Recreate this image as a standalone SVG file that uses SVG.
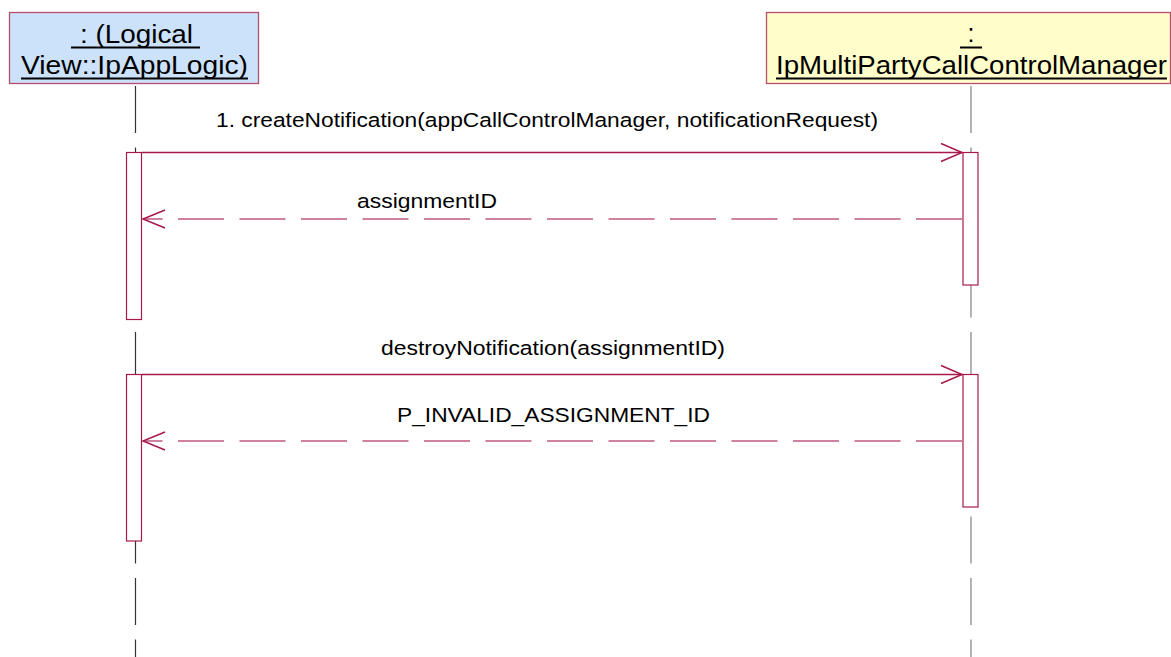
<svg xmlns="http://www.w3.org/2000/svg" width="1171" height="657" viewBox="0 0 1171 657">
<style>
.box{stroke:#B4506E;stroke-width:1.3}
.t{font-family:"Liberation Sans",Arial,sans-serif;fill:#000}
.title{font-size:25px}
.msg{font-size:20.5px}
.ul{stroke:#000;stroke-width:2}
.life{stroke-width:1.2;fill:none;stroke-dasharray:47 14.5}
.act{fill:#fff;stroke:#A8184C;stroke-width:1.2}
.call{stroke:#A8184C;stroke-width:1.3;fill:none}
.ret{stroke:#C05A80;stroke-width:1.6;fill:none;stroke-dasharray:46 15.5}
.head{stroke:#A8184C;stroke-width:1.5;fill:none}
</style>
<rect width="1171" height="657" fill="#fff"/>
<g id="node-applogic">
<rect class="box" x="9.5" y="12.5" width="249" height="71" fill="#CCE1FA"/>
<text class="t title" x="80" y="43" textLength="113" lengthAdjust="spacingAndGlyphs">: (Logical</text>
<line class="ul" x1="71" y1="47.5" x2="200" y2="47.5"/>
<text class="t title" x="21" y="74" textLength="227" lengthAdjust="spacingAndGlyphs">View::IpAppLogic)</text>
<line class="ul" x1="21" y1="78.5" x2="248" y2="78.5"/>
</g>
<g id="node-manager">
<rect class="box" x="766.5" y="12.5" width="404" height="71" fill="#FFFDC9"/>
<text class="t title" x="971" y="42" text-anchor="middle">:</text>
<line class="ul" x1="960" y1="47.5" x2="982" y2="47.5"/>
<text class="t title" x="776" y="74" textLength="391" lengthAdjust="spacingAndGlyphs">IpMultiPartyCallControlManager</text>
<line class="ul" x1="776" y1="78.5" x2="1167" y2="78.5"/>
</g>
<g id="lifelines">
<line class="life" x1="135.5" y1="86" x2="135.5" y2="657" stroke="#333"/>
<line class="life" x1="971" y1="86" x2="971" y2="657" stroke="#808080"/>
</g>
<g id="activations">
<rect class="act" x="126.5" y="152.5" width="15" height="167"/>
<rect class="act" x="126.5" y="374.5" width="15" height="166.5"/>
<rect class="act" x="963" y="152.5" width="15" height="132.5"/>
<rect class="act" x="963" y="374.5" width="15" height="132.5"/>
</g>
<g id="connectors">
<line class="call" x1="142" y1="152.5" x2="962" y2="152.5"/>
<polyline class="head" points="941,143.5 962,152.5 941,161.5"/>
<text class="t msg" x="216" y="126.7" textLength="662" lengthAdjust="spacingAndGlyphs">1. createNotification(appCallControlManager, notificationRequest)</text>
<line class="ret" x1="962" y1="219" x2="143" y2="219"/>
<polyline class="head" points="165,210 143,219 165,228"/>
<text class="t msg" x="357" y="208" textLength="140" lengthAdjust="spacingAndGlyphs">assignmentID</text>
<line class="call" x1="142" y1="374.5" x2="962" y2="374.5"/>
<polyline class="head" points="941,365.5 962,374.5 941,383.5"/>
<text class="t msg" x="381" y="355" textLength="344" lengthAdjust="spacingAndGlyphs">destroyNotification(assignmentID)</text>
<line class="ret" x1="962" y1="441" x2="143" y2="441"/>
<polyline class="head" points="165,432 143,441 165,450"/>
<text class="t msg" x="397" y="422.3" textLength="313" lengthAdjust="spacingAndGlyphs">P_INVALID_ASSIGNMENT_ID</text>
</g>
</svg>
